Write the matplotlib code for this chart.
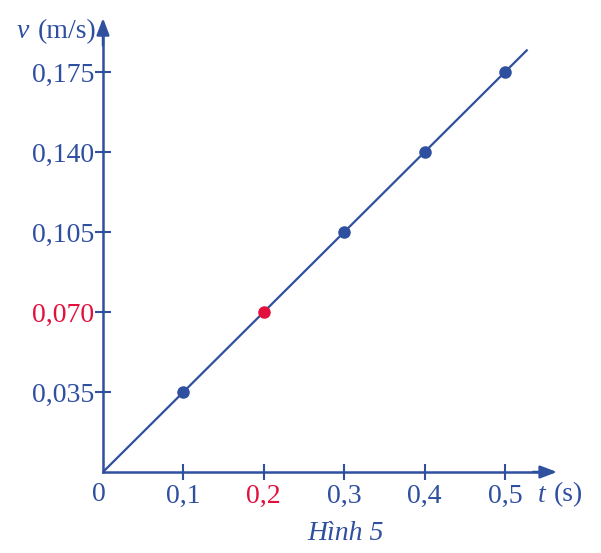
import matplotlib
matplotlib.use("Agg")
import matplotlib.pyplot as plt

# Data
t_values = [0.1, 0.2, 0.3, 0.4, 0.5]
v_values = [0.035, 0.070, 0.105, 0.140, 0.175]
point_colors = ["blue", "red", "blue", "blue", "blue"]
x_tick_labels = ["0,1", "0,2", "0,3", "0,4", "0,5"]
y_tick_labels = ["0,035", "0,070", "0,105", "0,140", "0,175"]
highlight_index = 1
line_t_end = 0.528
slope = 0.35

BLUE = "#2f4f9f"
RED = "#e2103c"
cmap = {"blue": BLUE, "red": RED}

plt.rcParams['font.family'] = ['Liberation Serif', 'DejaVu Serif']

fig = plt.figure(figsize=(6.01, 5.53), dpi=100)
ax = fig.add_axes([0, 0, 1, 1])
ax.set_xlim(-0.1281, 0.6194)
ax.set_ylim(-0.03544, 0.2065)
ax.patch.set_alpha(0)

for s in ["top", "right"]:
    ax.spines[s].set_visible(False)
x_tip = 0.5647
y_tip = 0.1986
ax.spines["left"].set_position(("data", 0))
ax.spines["bottom"].set_position(("data", 0))
ax.spines["left"].set_bounds(0, y_tip - 0.005)
ax.spines["bottom"].set_bounds(0, x_tip - 0.015)
for s in ["left", "bottom"]:
    ax.spines[s].set_color(BLUE)
    ax.spines[s].set_linewidth(1.8)

# arrow heads
ax.annotate("", xy=(x_tip, 0), xytext=(x_tip - 0.03, 0),
            arrowprops=dict(arrowstyle="-|>,head_length=1.0,head_width=0.38",
                            color=BLUE, lw=1.8, shrinkA=0, shrinkB=0),
            annotation_clip=False)
ax.annotate("", xy=(0, y_tip), xytext=(0, y_tip - 0.012),
            arrowprops=dict(arrowstyle="-|>,head_length=1.0,head_width=0.38",
                            color=BLUE, lw=1.8, shrinkA=0, shrinkB=0),
            annotation_clip=False)

ax.set_xticks(t_values)
ax.set_xticklabels(x_tick_labels)
ax.set_yticks(v_values)
ax.set_yticklabels(y_tick_labels)
ax.tick_params(axis="both", direction="inout", length=11, width=1.5,
               color=BLUE, labelsize=20, labelcolor=BLUE)
ax.tick_params(axis="x", pad=3)
ax.tick_params(axis="y", pad=1)
ax.get_xticklabels()[highlight_index].set_color(RED)
ax.get_yticklabels()[highlight_index].set_color(RED)

# line
ax.plot([0, line_t_end], [0, slope * line_t_end], color=BLUE, lw=1.6,
        solid_capstyle="butt", zorder=3)
# points
for t, v, c in zip(t_values, v_values, point_colors):
    ax.plot(t, v, "o", color=cmap[c], markersize=8, zorder=4)

# labels
ax.text(-0.005, -0.0045, "0", color=BLUE, fontsize=20, ha="center", va="top")
ax.text(-0.0075, 0.1925, "(m/s)", color=BLUE, fontsize=20, ha="right", va="center")
ax.text(-0.0925, 0.1925, "v", color=BLUE, fontsize=20, style="italic",
        ha="right", va="center")
ax.text(0.541, -0.0101, "t", color=BLUE, fontsize=20, style="italic",
        ha="left", va="center")
ax.text(0.5605, -0.0101, "(s)", color=BLUE, fontsize=20, ha="left", va="center")
ax.text(0.302, -0.0268, "Hình 5", color=BLUE, fontsize=20, style="italic",
        ha="center", va="center")

fig.savefig("out.png", dpi=100)
